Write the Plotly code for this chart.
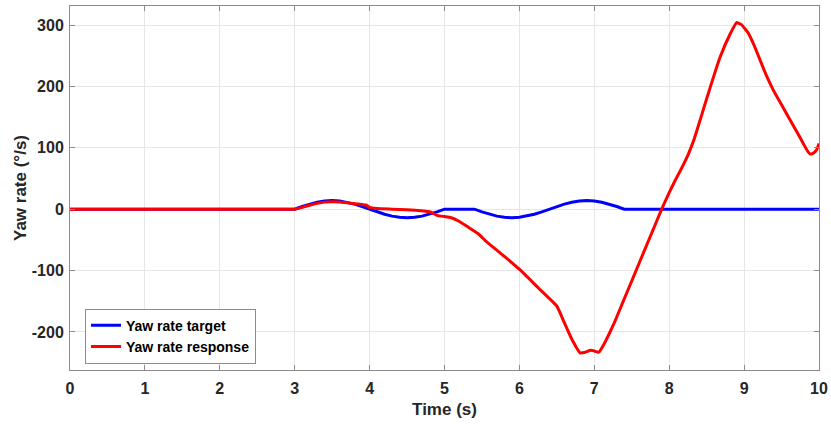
import plotly.graph_objects as go

# Yaw rate target (deg/s)
target_t = [0.0, 3.0, 3.1, 3.2, 3.3, 3.4, 3.5, 3.6, 3.7, 3.8, 3.9, 4.0,
            4.1, 4.2, 4.3, 4.4, 4.5, 4.6, 4.7, 4.8, 4.9, 5.0, 5.4,
            5.5, 5.6, 5.7, 5.8, 5.9, 6.0, 6.1, 6.2, 6.3, 6.4, 6.5,
            6.6, 6.7, 6.8, 6.9, 7.0, 7.1, 7.2, 7.3, 7.4, 10.0]
target_y = [0, 0, 4.3, 8.2, 11.3, 13.3, 14, 13.3, 11.3, 8.2, 4.3, 0,
            -4.3, -8.2, -11.3, -13.3, -14, -13.3, -11.3, -8.2, -4.3, 0, 0,
            -4.3, -8.2, -11.3, -13.3, -14, -13.3, -11.3, -8.2, -4.3, 0, 4.3,
            8.2, 11.3, 13.3, 14, 13.3, 11.3, 8.2, 4.3, 0, 0]

# Yaw rate response (deg/s)
resp_t = [0.0, 1.0, 2.0, 2.9, 3.0, 3.1, 3.2, 3.3, 3.4, 3.5, 3.6, 3.7, 3.8, 3.9, 3.96, 4.0,
          4.1, 4.3, 4.5, 4.72, 4.8, 4.9, 5.0, 5.08, 5.2, 5.3, 5.45, 5.56,
          5.8, 6.01, 6.25, 6.5, 6.6, 6.7, 6.81, 6.88, 6.95, 7.0, 7.06,
          7.12, 7.26, 7.39, 7.52, 7.66, 7.79, 7.9, 8.0, 8.08, 8.15, 8.25, 8.33, 8.42, 8.5,
          8.68, 8.82, 8.9, 8.96, 9.05, 9.13, 9.2, 9.3, 9.39, 9.5, 9.62, 9.7,
          9.79, 9.85, 9.88, 9.92, 9.97, 10.0]
resp_y = [0, 0, 0, 0, 0, 3, 6.5, 9.5, 11.5, 12, 11.5, 10.5, 9, 7.5, 6.5, 3,
          1, 0, -1, -2.8, -4, -10, -12, -13.5, -20, -28, -40, -53,
          -77, -99, -128, -158, -185, -212, -234, -233, -230, -231, -233,
          -222, -187, -149, -111, -70, -32, 0, 27, 47, 63, 88, 113, 148, 180,
          248, 287, 304, 301, 288, 268, 247, 217, 194, 170, 144, 127,
          107, 94, 90, 91, 97, 107]

x_ticks = list(range(0, 11))
y_ticks = [-200, -100, 0, 100, 200, 300]
y_tick_text = ["-200", "-100", "0", "100", "200", "300"]

FONT = "Liberation Sans, Arial, sans-serif"
TXT = "#262626"

fig = go.Figure()
fig.add_trace(go.Scatter(x=target_t, y=target_y, mode="lines", name="Yaw rate target",
                         line=dict(color="#0000ff", width=3)))
fig.add_trace(go.Scatter(x=resp_t, y=resp_y, mode="lines", name="Yaw rate response",
                         line=dict(color="#ff0000", width=3, shape="spline", smoothing=0.4)))

axis_common = dict(
    showline=True, linecolor="#8c8c8c", linewidth=1, mirror="ticks",
    ticks="inside", ticklen=5, tickcolor="#8c8c8c", automargin=False,
    showgrid=True, gridcolor="#e6e6e6", gridwidth=1, zeroline=False,
    tickfont=dict(family=FONT, size=16, color=TXT, weight="bold"),
)

fig.update_layout(
    width=831, height=425,
    margin=dict(l=70, r=12, t=6, b=55),
    paper_bgcolor="white", plot_bgcolor="white",
    xaxis=dict(range=[0, 10], tickvals=x_ticks, ticklabelstandoff=4,
               title=dict(text="Time (s)", font=dict(family=FONT, size=17, color=TXT, weight="bold"),
                          standoff=6),
               **axis_common),
    yaxis=dict(range=[-262, 331], tickvals=y_ticks, ticktext=y_tick_text, ticklabelstandoff=2,
               title=dict(text="Yaw rate (°/s)", font=dict(family=FONT, size=17, color=TXT, weight="bold"),
                          standoff=0),
               **axis_common),
    legend=dict(x=0.02, y=0.093, xanchor="left", yanchor="middle",
                bgcolor="white", bordercolor="#8c8c8c", borderwidth=1,
                font=dict(family=FONT, size=14, color="#000000", weight="bold"),
                tracegroupgap=0, itemwidth=30),
    showlegend=True,
)

fig.write_html("out.html", config={"displayModeBar": False},
               post_script="document.body.style.margin='0';")
